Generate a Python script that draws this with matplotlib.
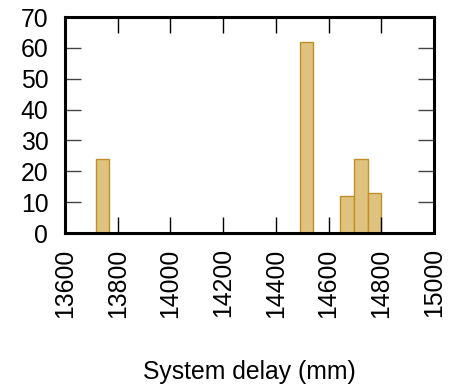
import numpy as np
import matplotlib
matplotlib.use("Agg")
import matplotlib.pyplot as plt

# ---------------------------------------------------------------------------
# Data (21 bins of ~51.6 mm)
# ---------------------------------------------------------------------------
BIN_START = 13716.0
BIN_WIDTH = 51.6
bin_index = [0, 15, 18, 19, 20]
counts    = [24, 62, 12, 24, 13]

x_ticks = [13600, 13800, 14000, 14200, 14400, 14600, 14800, 15000]
y_ticks = [0, 10, 20, 30, 40, 50, 60, 70]

FILL = "#dfc27d"
EDGE = "#bf8f2a"

plt.rcParams["font.family"] = ["Liberation Sans", "DejaVu Sans"]

fig = plt.figure(figsize=(4.5, 3.85), dpi=100)
ax = fig.add_axes([0.1444, 0.3948, 0.82, 0.561])

lefts = [BIN_START + i * BIN_WIDTH for i in bin_index]
ax.bar(lefts, counts, width=BIN_WIDTH, align="edge",
       color=FILL, edgecolor=EDGE, linewidth=1.0, zorder=1)

ax.set_xlim(13600, 15000)
ax.set_ylim(0, 70)
ax.set_xticks(x_ticks)
ax.set_yticks(y_ticks)
ax.set_xticklabels([str(t) for t in x_ticks], rotation=90)

ax.tick_params(axis="both", direction="in", length=11.5, width=1.0,
               labelsize=17.8, top=True, right=True)
ax.tick_params(axis="x", pad=11, colors="black")
ax.tick_params(axis="y", pad=12, color="#444444", labelcolor="black")

for s in ax.spines.values():
    s.set_linewidth(2.2)
    s.set_zorder(5)

ax.set_xlabel("System delay (mm)", fontsize=17.8)
ax.xaxis.set_label_coords(0.5, -0.59)

fig.savefig("out.png", dpi=100)
